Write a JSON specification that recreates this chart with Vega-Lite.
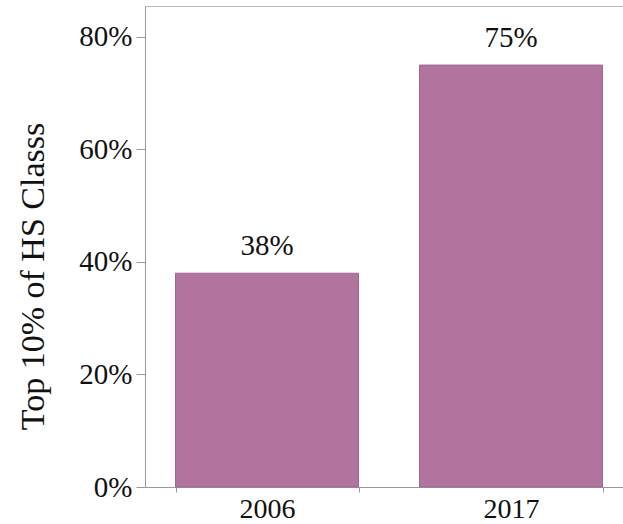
{
  "$schema": "https://vega.github.io/schema/vega-lite/v6.json",
  "autosize": "none",
  "width": 478,
  "height": 481,
  "padding": {"left": 145, "top": 6, "right": 0, "bottom": 37},
  "background": "white",
  "config": {
    "view": {"stroke": "#bbbbbb", "strokeWidth": 1},
    "font": "Liberation Serif"
  },
  "data": {"values": [
    {"year": "2006", "share": 0.38, "label": "38%"},
    {"year": "2017", "share": 0.75, "label": "75%"}
  ]},
  "encoding": {
    "x": {
      "field": "year", "type": "nominal",
      "scale": {"range": [0, 488], "paddingInner": 0.25, "paddingOuter": 0.125},
      "axis": {"title": null, "labelAngle": 0, "labelFont": "Liberation Serif", "labelFontSize": 28, "labelColor": "#111111", "labelPadding": 3, "domainColor": "#999999", "tickColor": "#999999", "tickSize": 5, "tickBand": "extent", "labelBaseline": "top"}
    },
    "y": {
      "field": "share", "type": "quantitative",
      "scale": {"domain": [0, 0.855], "nice": false},
      "axis": {"title": "Top 10% of HS Classs", "format": ".0%", "values": [0, 0.2, 0.4, 0.6, 0.8], "grid": false, "labelFont": "Liberation Serif", "labelFontSize": 29, "labelColor": "#111111", "labelPadding": 4, "tickSize": 9, "tickColor": "#999999", "domainColor": "#999999", "titleFont": "Liberation Serif", "titleFontSize": 34, "titleFontWeight": "normal", "titleColor": "#111111", "titlePadding": 28, "titleY": 270, "titleAlign": "center"}
    }
  },
  "layer": [
    {"mark": {"type": "bar", "color": "#b0749e", "stroke": "#9e6690", "strokeWidth": 1}},
    {"mark": {"type": "text", "baseline": "bottom", "dy": -12, "font": "Liberation Serif", "fontSize": 29, "color": "#111111"},
     "encoding": {"text": {"field": "label"}}}
  ]
}
